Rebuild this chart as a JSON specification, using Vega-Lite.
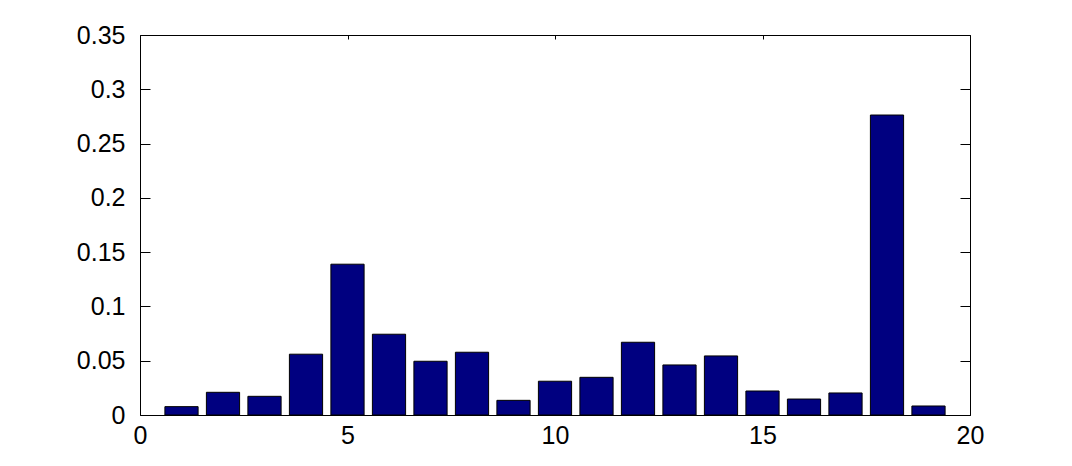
{
  "$schema": "https://vega.github.io/schema/vega-lite/v6.json",
  "width": 830,
  "height": 380,
  "autosize": {"type": "none"},
  "padding": {"left": 140, "top": 35, "right": 102, "bottom": 51},
  "background": "white",
  "config": {
    "view": {"stroke": null},
    "axis": {
      "grid": false,
      "domain": true,
      "domainColor": "black",
      "domainWidth": 1,
      "labelFont": "Liberation Sans",
      "labelFontSize": 25,
      "labelColor": "black",
      "labelFlush": false,
      "labelOverlap": false,
      "tickColor": "black",
      "tickWidth": 1,
      "title": null
    }
  },
  "data": {
    "values": [
      {"x": 1, "y": 0.0077},
      {"x": 2, "y": 0.0209},
      {"x": 3, "y": 0.0172},
      {"x": 4, "y": 0.056},
      {"x": 5, "y": 0.1389},
      {"x": 6, "y": 0.0744},
      {"x": 7, "y": 0.0495},
      {"x": 8, "y": 0.0578},
      {"x": 9, "y": 0.0135},
      {"x": 10, "y": 0.0311},
      {"x": 11, "y": 0.0347},
      {"x": 12, "y": 0.067},
      {"x": 13, "y": 0.0461},
      {"x": 14, "y": 0.0544},
      {"x": 15, "y": 0.0221},
      {"x": 16, "y": 0.0147},
      {"x": 17, "y": 0.0203},
      {"x": 18, "y": 0.2763},
      {"x": 19, "y": 0.0083}
    ]
  },
  "layer": [
    {
      "mark": {"type": "bar", "width": 33.2, "fill": "#000080", "stroke": "black", "strokeWidth": 1},
      "encoding": {
        "x": {
          "field": "x", "type": "quantitative",
          "scale": {"domain": [0, 20], "nice": false, "zero": false, "padding": 0},
          "axis": {"orient": "bottom", "values": [0, 5, 10, 15, 20], "tickSize": -4, "labelPadding": 12, "labelBaseline": "top", "labelFlush": false}
        },
        "y": {
          "field": "y", "type": "quantitative",
          "scale": {"domain": [0, 0.35], "nice": false, "padding": 0},
          "axis": {"orient": "left", "values": [0, 0.05, 0.1, 0.15, 0.2, 0.25, 0.3, 0.35], "format": "~g", "tickSize": -10, "labelPadding": 25, "labelFlush": false}
        }
      }
    },
    {
      "mark": {"type": "bar", "width": 33.2, "opacity": 0},
      "encoding": {
        "x": {
          "field": "x", "type": "quantitative",
          "scale": {"domain": [0, 20], "nice": false, "zero": false, "padding": 0},
          "axis": {"orient": "top", "values": [0, 5, 10, 15, 20], "tickSize": -4, "labels": false}
        },
        "y": {
          "field": "y", "type": "quantitative",
          "scale": {"domain": [0, 0.35], "nice": false, "padding": 0},
          "axis": {"orient": "right", "values": [0, 0.05, 0.1, 0.15, 0.2, 0.25, 0.3, 0.35], "tickSize": -10, "labels": false}
        }
      }
    }
  ],
  "resolve": {"axis": {"x": "independent", "y": "independent"}}
}
